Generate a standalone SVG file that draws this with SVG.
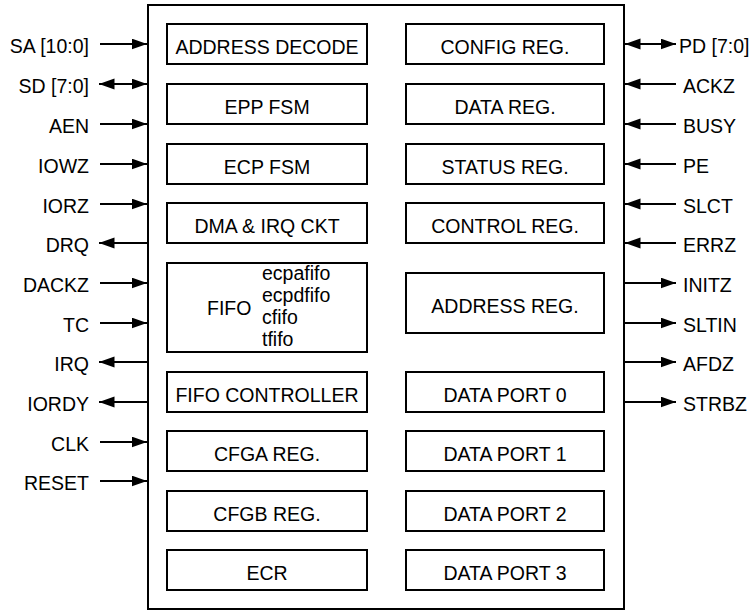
<svg xmlns="http://www.w3.org/2000/svg" width="756" height="610" viewBox="0 0 756 610">
<style>
text{font-family:"Liberation Sans",Arial,Helvetica,sans-serif;font-size:19.5px;fill:#000}
.b{fill:#fff;stroke:#000;stroke-width:2}
.c{text-anchor:middle}
.l{text-anchor:end}
.w{stroke:#000;stroke-width:2;fill:none}
.in{marker-end:url(#ah)}
.bi{marker-end:url(#ah);marker-start:url(#ah)}
</style>
<defs>
<marker id="ah" markerUnits="userSpaceOnUse" markerWidth="17" markerHeight="13" refX="15.5" refY="5.5" orient="auto-start-reverse">
<path d="M0,0 L15.5,5.5 L0,11 z" fill="#000"/>
</marker>
</defs>
<rect x="0" y="0" width="756" height="610" fill="#fff"/>
<g id="chip"><rect class="b" x="148" y="5" width="476" height="604"/></g>

<g id="n-address-decode"><rect class="b" x="167" y="24" width="200" height="40"/><text class="c" x="267" y="53.5">ADDRESS DECODE</text></g>
<g id="n-epp-fsm"><rect class="b" x="167" y="84" width="200" height="40"/><text class="c" x="267" y="113.5">EPP FSM</text></g>
<g id="n-ecp-fsm"><rect class="b" x="167" y="144" width="200" height="40"/><text class="c" x="267" y="173.5">ECP FSM</text></g>
<g id="n-dma"><rect class="b" x="167" y="203" width="200" height="40"/><text class="c" x="267" y="232.5">DMA &amp; IRQ CKT</text></g>
<g id="n-fifo"><rect class="b" x="167" y="263" width="200" height="89"/>
<text x="207" y="315">FIFO</text>
<text x="262" y="280">ecpafifo</text>
<text x="262" y="302">ecpdfifo</text>
<text x="262" y="324">cfifo</text>
<text x="262" y="346">tfifo</text></g>
<g id="n-fifo-ctrl"><rect class="b" x="167" y="372" width="200" height="40"/><text class="c" x="267" y="401.5">FIFO CONTROLLER</text></g>
<g id="n-cfga"><rect class="b" x="167" y="431" width="200" height="40"/><text class="c" x="267" y="460.5">CFGA REG.</text></g>
<g id="n-cfgb"><rect class="b" x="167" y="491" width="200" height="40"/><text class="c" x="267" y="520.5">CFGB REG.</text></g>
<g id="n-ecr"><rect class="b" x="167" y="550" width="200" height="40"/><text class="c" x="267" y="579.5">ECR</text></g>

<g id="n-config"><rect class="b" x="406" y="24" width="198" height="40"/><text class="c" x="505" y="53.5">CONFIG REG.</text></g>
<g id="n-data-reg"><rect class="b" x="406" y="84" width="198" height="40"/><text class="c" x="505" y="113.5">DATA REG.</text></g>
<g id="n-status"><rect class="b" x="406" y="144" width="198" height="40"/><text class="c" x="505" y="173.5">STATUS REG.</text></g>
<g id="n-control"><rect class="b" x="406" y="203" width="198" height="40"/><text class="c" x="505" y="232.5">CONTROL REG.</text></g>
<g id="n-address-reg"><rect class="b" x="406" y="273" width="198" height="60"/><text class="c" x="505" y="312.5">ADDRESS REG.</text></g>
<g id="n-dp0"><rect class="b" x="406" y="372" width="198" height="40"/><text class="c" x="505" y="401.5">DATA PORT 0</text></g>
<g id="n-dp1"><rect class="b" x="406" y="431" width="198" height="40"/><text class="c" x="505" y="460.5">DATA PORT 1</text></g>
<g id="n-dp2"><rect class="b" x="406" y="491" width="198" height="40"/><text class="c" x="505" y="520.5">DATA PORT 2</text></g>
<g id="n-dp3"><rect class="b" x="406" y="550" width="198" height="40"/><text class="c" x="505" y="579.5">DATA PORT 3</text></g>

<g id="connectors">
<line class="w in" x1="100" y1="44" x2="147" y2="44"/>
<line class="w bi" x1="99" y1="84" x2="147" y2="84"/>
<line class="w in" x1="100" y1="124" x2="147" y2="124"/>
<line class="w in" x1="100" y1="164" x2="147" y2="164"/>
<line class="w in" x1="100" y1="204" x2="147" y2="204"/>
<line class="w in" x1="148" y1="243" x2="99" y2="243"/>
<line class="w in" x1="100" y1="283" x2="147" y2="283"/>
<line class="w in" x1="100" y1="323" x2="147" y2="323"/>
<line class="w in" x1="148" y1="362" x2="99" y2="362"/>
<line class="w in" x1="148" y1="402" x2="99" y2="402"/>
<line class="w in" x1="100" y1="442" x2="147" y2="442"/>
<line class="w in" x1="100" y1="481" x2="147" y2="481"/>

<line class="w bi" x1="625" y1="44" x2="676" y2="44"/>
<line class="w in" x1="676" y1="84" x2="625" y2="84"/>
<line class="w in" x1="676" y1="124" x2="625" y2="124"/>
<line class="w in" x1="676" y1="164" x2="625" y2="164"/>
<line class="w in" x1="676" y1="204" x2="625" y2="204"/>
<line class="w in" x1="676" y1="243" x2="625" y2="243"/>
<line class="w in" x1="624" y1="283" x2="676" y2="283"/>
<line class="w in" x1="624" y1="323" x2="676" y2="323"/>
<line class="w in" x1="624" y1="362" x2="676" y2="362"/>
<line class="w in" x1="624" y1="402" x2="676" y2="402"/>
</g>

<g id="labels-left">
<text class="l" x="89" y="53">SA [10:0]</text>
<text class="l" x="89" y="93">SD [7:0]</text>
<text class="l" x="89" y="133">AEN</text>
<text class="l" x="89" y="173">IOWZ</text>
<text class="l" x="89" y="213">IORZ</text>
<text class="l" x="89" y="252">DRQ</text>
<text class="l" x="89" y="292">DACKZ</text>
<text class="l" x="89" y="332">TC</text>
<text class="l" x="89" y="371">IRQ</text>
<text class="l" x="89" y="411">IORDY</text>
<text class="l" x="89" y="451">CLK</text>
<text class="l" x="89" y="490">RESET</text>
</g>
<g id="labels-right">
<text x="679" y="53">PD [7:0]</text>
<text x="683" y="93">ACKZ</text>
<text x="683" y="133">BUSY</text>
<text x="683" y="173">PE</text>
<text x="683" y="213">SLCT</text>
<text x="683" y="252">ERRZ</text>
<text x="683" y="292">INITZ</text>
<text x="683" y="332">SLTIN</text>
<text x="683" y="371">AFDZ</text>
<text x="683" y="411">STRBZ</text>
</g>
</svg>
